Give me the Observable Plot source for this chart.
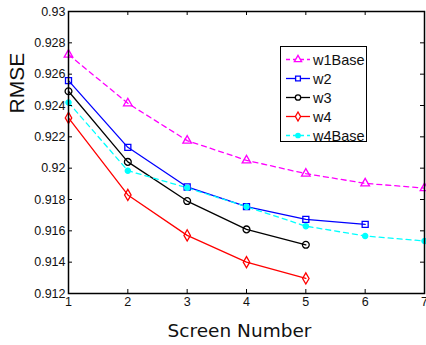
<!DOCTYPE html>
<html>
<head>
<meta charset="utf-8">
<script src="https://cdn.jsdelivr.net/npm/d3@7"></script>
<script src="https://cdn.jsdelivr.net/npm/@observablehq/plot@0.6"></script>
<style>
  body { margin: 0; background: #fff; }
  #wrap { position: relative; width: 426px; height: 345px; }
  #legend { position: absolute; left: 280px; top: 46px; width: 87px; height: 96px;
    border: 1.2px solid #000; background: #fff; font-family: "Liberation Sans", Arial, sans-serif;
    font-size: 14.5px; color: #111; box-sizing: border-box; }
  #legend .row { position: absolute; left: 0; height: 19px; display: flex; align-items: center; }
  #legend svg { display: block; }
</style>
</head>
<body>
<div id="wrap"></div>
<script>
const screens = [1, 2, 3, 4, 5, 6, 7];
const w1Base = [0.92725, 0.92414, 0.92176, 0.92050, 0.91965, 0.91903, 0.91873];
const w2     = [0.92559, 0.92133, 0.91880, 0.91754, 0.91673, 0.91641];
const w3     = [0.92491, 0.92040, 0.91790, 0.91609, 0.91511];
const w4     = [0.92321, 0.91829, 0.91571, 0.91400, 0.91296];
const w4Base = [0.92419, 0.91984, 0.91875, 0.91754, 0.91630, 0.91567, 0.91535];

const seriesNames = ["w1Base", "w2", "w3", "w4", "w4Base"];
const seriesValues = [w1Base, w2, w3, w4, w4Base];
const colors = ["#ff00ff", "#0000ff", "#000000", "#ff0000", "#00ffff"];
const symbols = ["triangle", "square", "circle", "diamond", "circle"];
const radii = [3.2, 3.4, 3.4, 3.4, 2.6];
const dashes = ["5,4", null, null, null, "5,4"];
const filled = [false, false, false, false, true];

const xTicks = [1, 2, 3, 4, 5, 6, 7];
const yTicks = [0.912, 0.914, 0.916, 0.918, 0.92, 0.922, 0.924, 0.926, 0.928, 0.93];
const xDomain = [1, 7];
const yDomain = [0.912, 0.93];

const rows = [];
seriesNames.forEach((name, i) => {
  seriesValues[i].forEach((v, j) => rows.push({series: name, x: screens[j], y: v, i}));
});

const W = 426, H = 345, mL = 68, mR = 2, mT = 11, mB = 52;
const tickLen = 4;
const pxX = (W - mL - mR) / (xDomain[1] - xDomain[0]);
const pxY = (H - mT - mB) / (yDomain[1] - yDomain[0]);
const dx = tickLen / pxX, dy = tickLen / pxY;

const font = '"Liberation Sans", Arial, sans-serif';
const marks = [];
seriesNames.forEach((name, i) => {
  const data = rows.filter(r => r.i === i);
  marks.push(Plot.line(data, {x: "x", y: "y", stroke: colors[i], strokeWidth: 1.3,
    strokeDasharray: dashes[i] || undefined}));
});
seriesNames.forEach((name, i) => {
  const data = rows.filter(r => r.i === i);
  marks.push(Plot.dot(data, {x: "x", y: "y", symbol: () => symbols[i], r: radii[i],
    stroke: colors[i], strokeWidth: 1.3, fill: filled[i] ? colors[i] : "none"}));
});

const plot = Plot.plot({
  width: W, height: H,
  marginLeft: mL, marginRight: mR, marginTop: mT, marginBottom: mB,
  x: {domain: xDomain, ticks: xTicks},
  y: {domain: yDomain, ticks: yTicks},
  symbol: {type: "identity"},
  style: {fontFamily: font, fontSize: "12.5px", color: "#111", background: "#fff"},
  marks: [
    ...marks,
    Plot.ruleX(xTicks, {x: d => d, y1: yDomain[0], y2: yDomain[0] + dy, stroke: "#000", strokeWidth: 1}),
    Plot.ruleX(xTicks, {x: d => d, y1: yDomain[1], y2: yDomain[1] - dy, stroke: "#000", strokeWidth: 1}),
    Plot.ruleY(yTicks, {y: d => d, x1: xDomain[0], x2: xDomain[0] + dx, stroke: "#000", strokeWidth: 1}),
    Plot.ruleY(yTicks, {y: d => d, x1: xDomain[1], x2: xDomain[1] - dx, stroke: "#000", strokeWidth: 1}),
    Plot.frame({stroke: "#000", strokeWidth: 1.5}),
    Plot.axisX(xTicks, {tickSize: 0, tickPadding: 4, label: null, tickFormat: d => String(d), fontSize: 12.5}),
    Plot.axisY(yTicks, {tickSize: 0, tickPadding: 3, label: null, tickFormat: d => String(+d.toFixed(3)), fontSize: 12.5}),
    Plot.text(["RMSE"], {text: d => d, frameAnchor: "left", dx: -51.5, dy: -39, rotate: -90,
      fontSize: 21, fontFamily: font, fill: "#111"}),
    Plot.text(["Screen Number"], {text: d => d, frameAnchor: "bottom", dx: -7, dy: 43,
      fontSize: 18.5, fontFamily: "DejaVu Sans", fill: "#111"})
  ]
});

const wrap = document.getElementById("wrap");
wrap.appendChild(plot);

const legend = document.createElement("div");
legend.id = "legend";
seriesNames.forEach((name, i) => {
  const row = document.createElement("div");
  row.className = "row";
  row.style.top = (3 + i * 19) + "px";
  const ns = "http://www.w3.org/2000/svg";
  const s = document.createElementNS(ns, "svg");
  s.setAttribute("width", 32); s.setAttribute("height", 19);
  const ln = document.createElementNS(ns, "line");
  ln.setAttribute("x1", 5); ln.setAttribute("x2", 29); ln.setAttribute("y1", 9.5); ln.setAttribute("y2", 9.5);
  ln.setAttribute("stroke", colors[i]); ln.setAttribute("stroke-width", 1.3);
  if (dashes[i]) ln.setAttribute("stroke-dasharray", "4,3");
  s.appendChild(ln);
  const symMap = {triangle: d3.symbolTriangle, square: d3.symbolSquare, circle: d3.symbolCircle, diamond: d3.symbolDiamond};
  const r = filled[i] ? 2.2 : 2.7;
  const p = document.createElementNS(ns, "path");
  p.setAttribute("d", d3.symbol(symMap[symbols[i]], Math.PI * r * r)());
  p.setAttribute("transform", "translate(17,9.5)");
  p.setAttribute("stroke", colors[i]); p.setAttribute("stroke-width", 1.3);
  p.setAttribute("fill", filled[i] ? colors[i] : "#fff");
  s.appendChild(p);
  row.appendChild(s);
  const t = document.createElement("span");
  t.textContent = name;
  row.appendChild(t);
  legend.appendChild(row);
});
wrap.appendChild(legend);
</script>
</body>
</html>
